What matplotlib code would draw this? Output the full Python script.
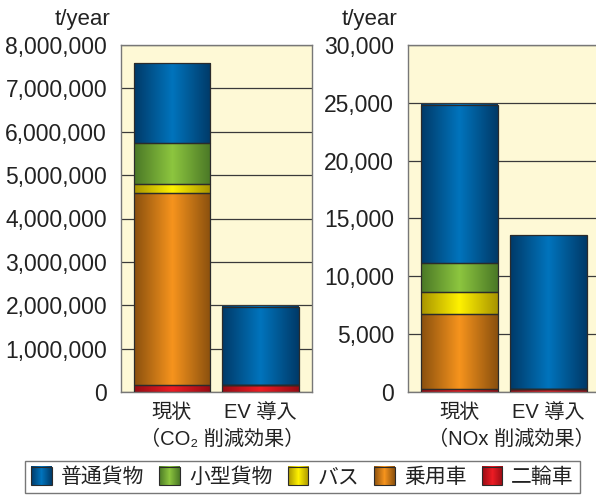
import numpy as np
import matplotlib
matplotlib.use("Agg")
import matplotlib.pyplot as plt
from matplotlib.colors import LinearSegmentedColormap
from matplotlib.patches import Patch, Rectangle
from matplotlib.image import BboxImage
from matplotlib.transforms import Bbox, TransformedBbox
from matplotlib.legend_handler import HandlerBase
from matplotlib.ticker import FuncFormatter

plt.rcParams['font.family'] = ['Liberation Sans', 'Noto Sans CJK JP', 'DejaVu Sans']

# データ
categories = ['現状', 'EV 導入']
series = ['二輪車', '乗用車', 'バス', '小型貨物', '普通貨物']  # 下から積み上げ
co2 = {
    '二輪車': [160000, 160000],
    '乗用車': [4420000, 0],
    'バス': [210000, 0],
    '小型貨物': [950000, 0],
    '普通貨物': [1840000, 1800000],
}
nox = {
    '二輪車': [260, 260],
    '乗用車': [6460, 0],
    'バス': [1900, 0],
    '小型貨物': [2510, 0],
    '普通貨物': [13690, 13310],
}
legend_order = ['普通貨物', '小型貨物', 'バス', '乗用車', '二輪車']

# 色 (端の暗い色, 中央の明るい色)
colors = {
    '普通貨物': ('#003a68', '#0074bd'),
    '小型貨物': ('#4a7826', '#8dc63f'),
    'バス': ('#a89400', '#fff200'),
    '乗用車': ('#8a500e', '#f7941d'),
    '二輪車': ('#960c14', '#ed1c24'),
}
cmaps = {k: LinearSegmentedColormap.from_list(k, [v[0], v[1], v[0]]) for k, v in colors.items()}
grad = np.linspace(0, 1, 128).reshape(1, -1)


class GradHandler(HandlerBase):
    # 凡例のグラデーション四角
    def create_artists(self, legend, orig_handle, xdescent, ydescent, width, height, fontsize, trans):
        name = orig_handle.get_label()
        bb = TransformedBbox(Bbox.from_bounds(-xdescent, -ydescent, width, height), trans)
        img = BboxImage(bb, cmap=cmaps[name], interpolation='bilinear')
        img.set_data(grad)
        rect = Rectangle((-xdescent, -ydescent), width, height, facecolor='none',
                         edgecolor='#2b2b2b', linewidth=0.8, transform=trans)
        return [img, rect]


fig = plt.figure(figsize=(5.96, 4.95), dpi=100)
ax1 = fig.add_axes([121 / 596, 1 - 392 / 495, 191 / 596, 347 / 495])
ax2 = fig.add_axes([408 / 596, 1 - 392 / 495, 188 / 596, 347 / 495])


def draw(ax, data, ymax, step, width, xlim, subtitle, sub_x):
    ax.set_facecolor('#fef9d6')
    x = np.arange(len(categories))
    bottom = np.zeros(len(categories))
    for s in series:
        vals = np.array(data[s], dtype=float)
        bars = ax.bar(x, vals, width, bottom=bottom, facecolor='none',
                      edgecolor='#2b2b2b', linewidth=0.9, zorder=3)
        for b in bars:
            if b.get_height() <= 0:
                continue
            x0, y0 = b.get_x(), b.get_y()
            ax.imshow(grad, cmap=cmaps[s], aspect='auto', zorder=2,
                      extent=[x0, x0 + b.get_width(), y0, y0 + b.get_height()])
        bottom += vals
    ax.set_xlim(*xlim)
    ax.set_ylim(0, ymax)
    ax.set_yticks(np.arange(0, ymax + 1, step))
    ax.yaxis.set_major_formatter(FuncFormatter(lambda v, p: f'{v:,.0f}'))
    ax.grid(axis='y', color='#3a3a3a', linewidth=0.9, zorder=1)
    ax.set_axisbelow(True)
    ax.tick_params(axis='y', length=0, pad=10, labelsize=16.5, labelcolor='#222222')
    ax.tick_params(axis='x', length=0, pad=8, labelsize=14.5, labelcolor='#222222')
    ax.set_xticks(x)
    ax.set_xticklabels(categories)
    for sp in ax.spines.values():
        sp.set_color('#777777')
        sp.set_linewidth(1.0)
    ax.annotate('t/year', xy=(0, 1), xycoords='axes fraction', xytext=(-11, 25),
                textcoords='offset pixels', ha='right', va='center',
                fontsize=16, color='#222222')
    ax.annotate(subtitle, xy=(sub_x, 0), xycoords='axes fraction', xytext=(0, -47),
                textcoords='offset pixels', ha='center', va='center',
                fontsize=14.5, color='#222222')


draw(ax1, co2, 8000000, 1000000, 0.86, (-0.576, 1.582), '（CO₂ 削減効果）', 0.529)
draw(ax2, nox, 30000, 5000, 0.865, (-0.579, 1.534), '（NOx 削減効果）', 0.548)
ax2.spines['right'].set_visible(False)

handles = [Patch(facecolor=colors[s][1], label=s) for s in legend_order]
fig.legend(handles=handles, loc='center', bbox_to_anchor=(302.5 / 596, 1 - 477 / 495), ncol=5,
           fontsize=15, frameon=True, fancybox=False, edgecolor='#555555',
           handlelength=1.0, handleheight=1.0, handletextpad=0.43, columnspacing=0.72,
           borderpad=0.3, borderaxespad=0, labelcolor='#222222',
           handler_map={Patch: GradHandler()})

plt.savefig('out.png', dpi=100)
